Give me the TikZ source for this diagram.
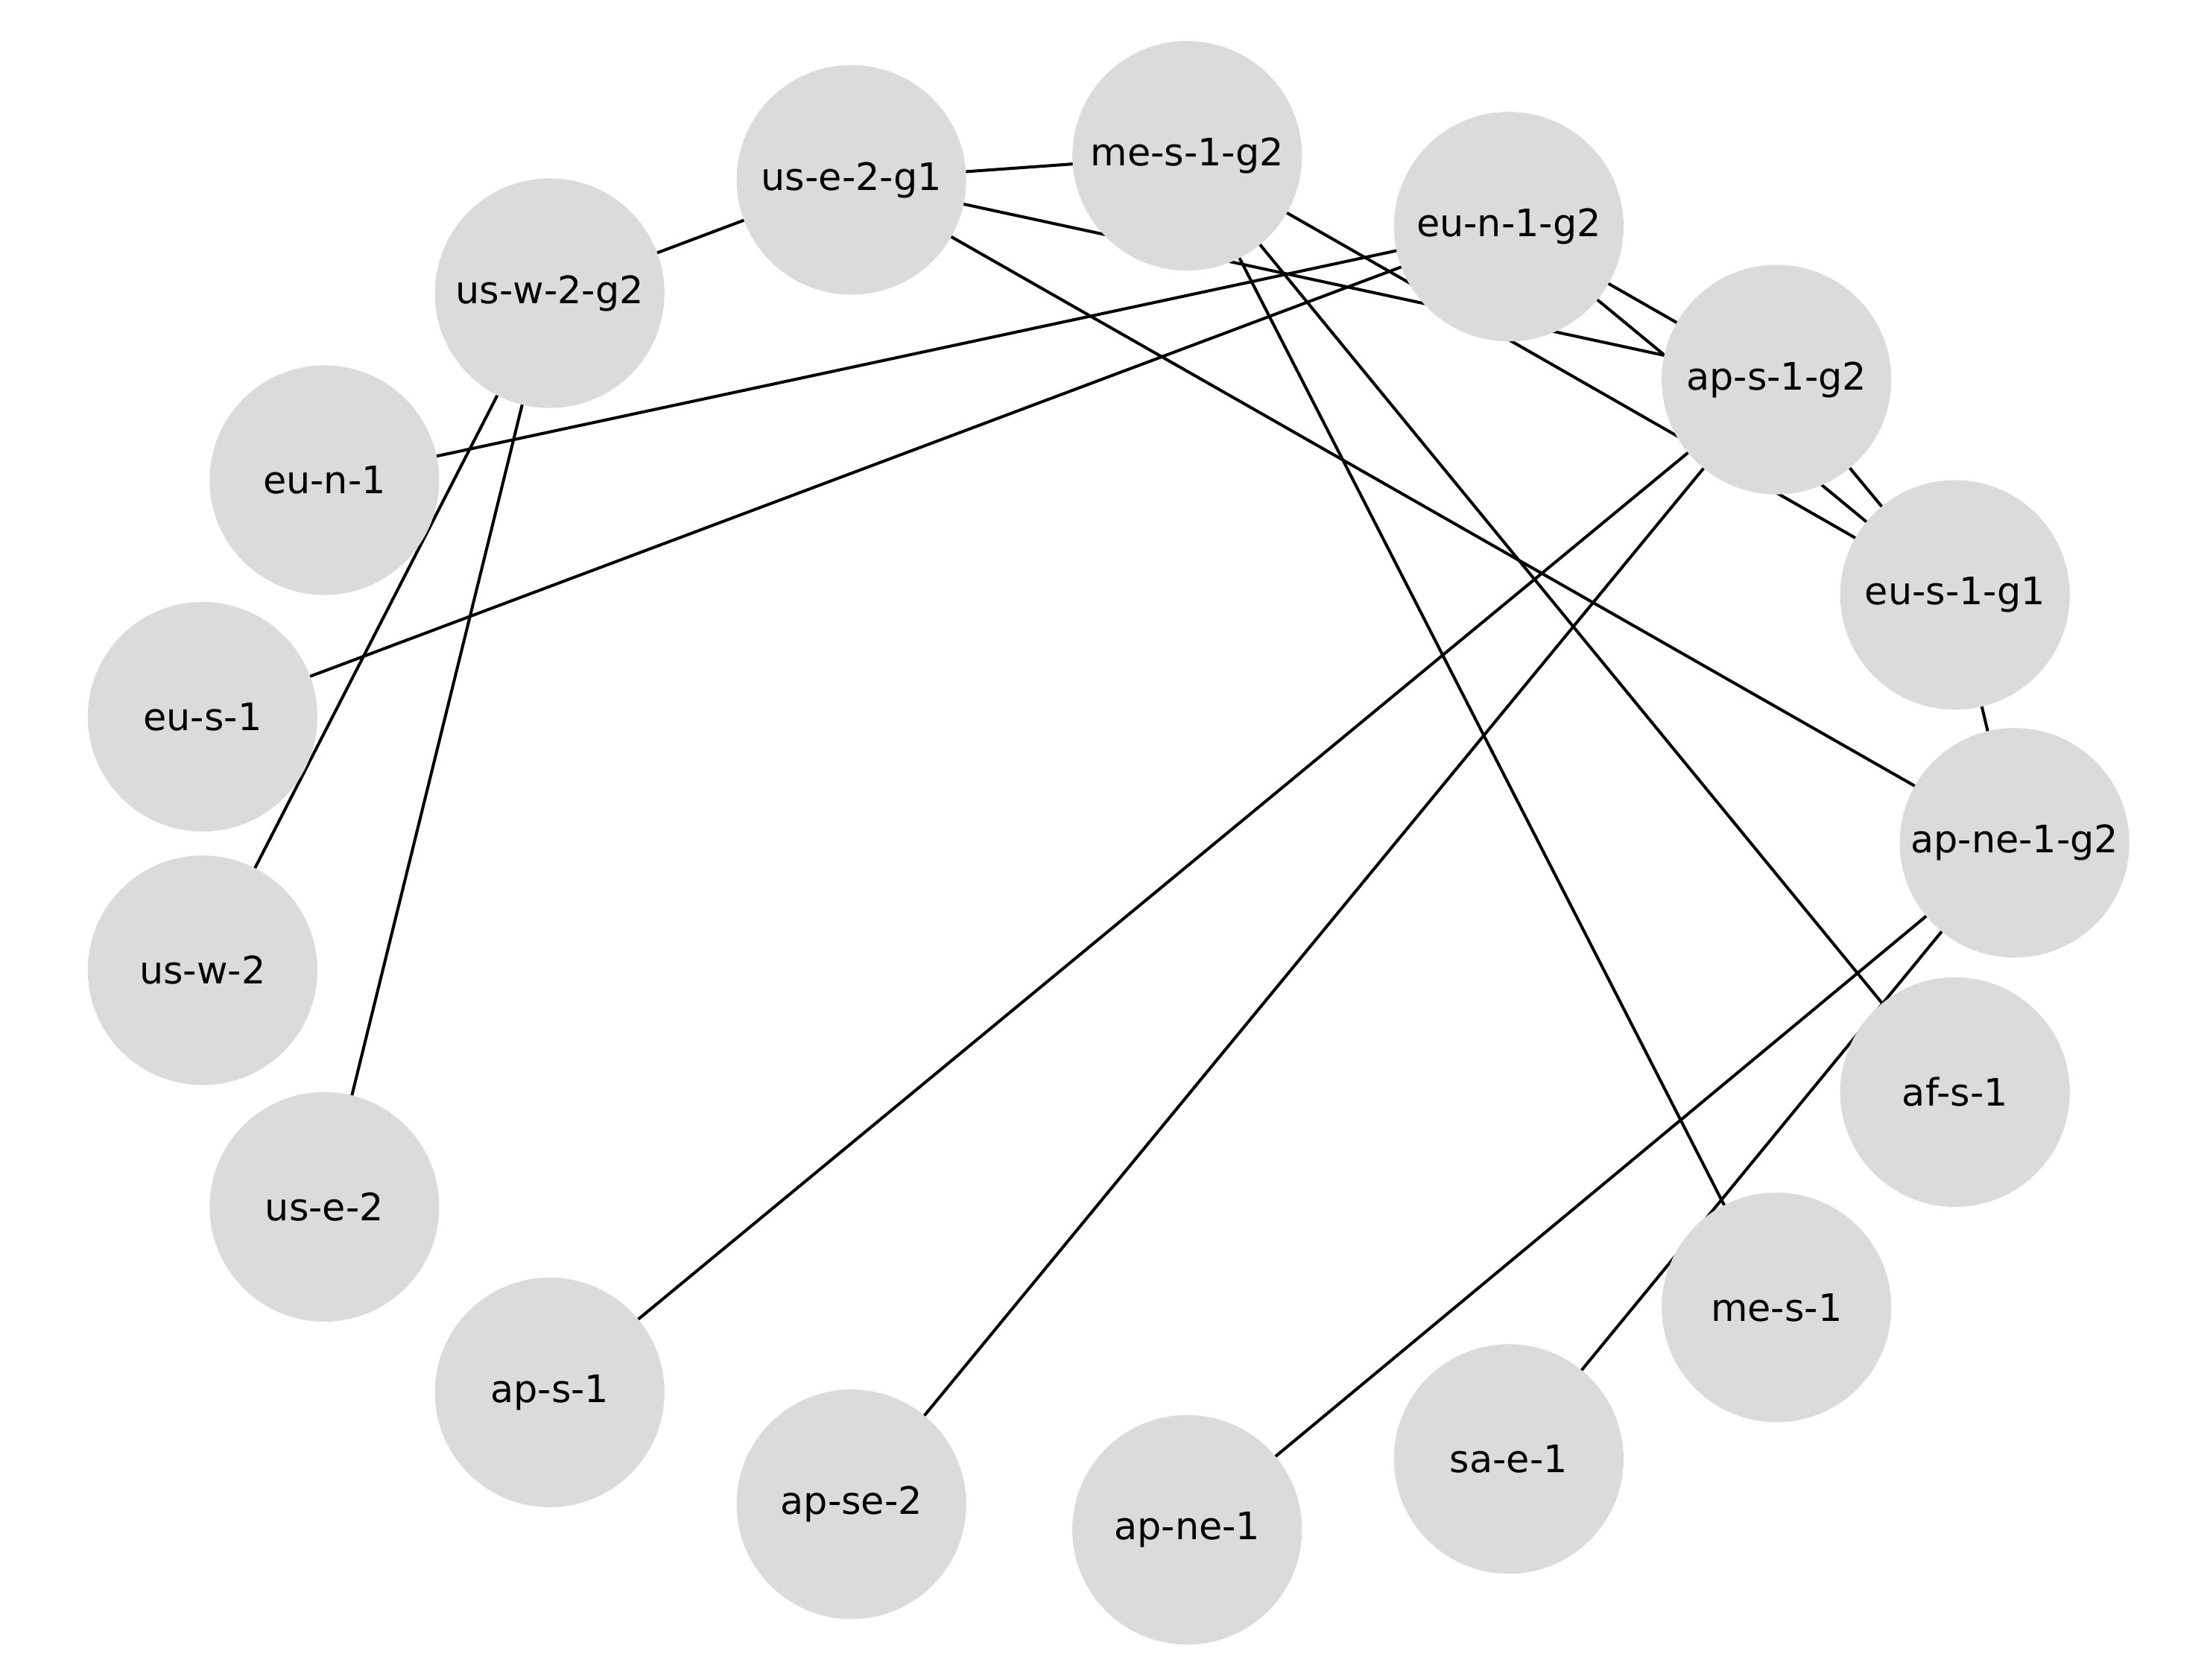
\documentclass[tikz,border=0pt]{standalone}
\usepackage{fontspec}
\setmainfont{DejaVu Sans}
\pgfdeclarelayer{bg}
\pgfsetlayers{bg,main}
\begin{document}
\begin{tikzpicture}[x=0.01cm,y=-0.01cm,
  n/.style={circle,fill=black!14,minimum size=1.62cm,inner sep=0pt,font=\fontsize{7.6}{9}\selectfont},
  e/.style={line width=0.6pt,black}]
\useasboundingbox (0,0) rectangle (1560,1186);
\node[n] (a) at (601,127) {us-e-2-g1};
\node[n] (b) at (838,110) {me-s-1-g2};
\node[n] (c) at (1065,160) {eu-n-1-g2};
\node[n] (d) at (1254,268) {ap-s-1-g2};
\node[n] (f) at (1380,420) {eu-s-1-g1};
\node[n] (g) at (1422,595) {ap-ne-1-g2};
\node[n] (h) at (1380,771) {af-s-1};
\node[n] (i) at (1254,923) {me-s-1};
\node[n] (j) at (1065,1030) {sa-e-1};
\node[n] (k) at (838,1080) {ap-ne-1};
\node[n] (l) at (601,1062) {ap-se-2};
\node[n] (m) at (388,983) {ap-s-1};
\node[n] (o) at (229,852) {us-e-2};
\node[n] (p) at (143,685) {us-w-2};
\node[n] (q) at (143,506) {eu-s-1};
\node[n] (r) at (229,339) {eu-n-1};
\node[n] (s) at (388,207) {us-w-2-g2};
\begin{pgfonlayer}{bg}
\draw[e] (s.center)--(a.center);
\draw[e] (a.center)--(b.center);
\draw[e] (a.center)--(d.center);
\draw[e] (a.center)--(g.center);
\draw[e] (b.center)--(f.center);
\draw[e] (b.center)--(i.center);
\draw[e] (b.center)--(h.center);
\draw[e] (c.center)--(r.center);
\draw[e] (c.center)--(q.center);
\draw[e] (c.center)--(d.center);
\draw[e] (c.center)--(f.center);
\draw[e] (d.center)--(f.center);
\draw[e] (f.center)--(g.center);
\draw[e] (d.center)--(m.center);
\draw[e] (d.center)--(l.center);
\draw[e] (g.center)--(k.center);
\draw[e] (g.center)--(j.center);
\draw[e] (s.center)--(p.center);
\draw[e] (s.center)--(o.center);
\end{pgfonlayer}
\end{tikzpicture}
\end{document}
